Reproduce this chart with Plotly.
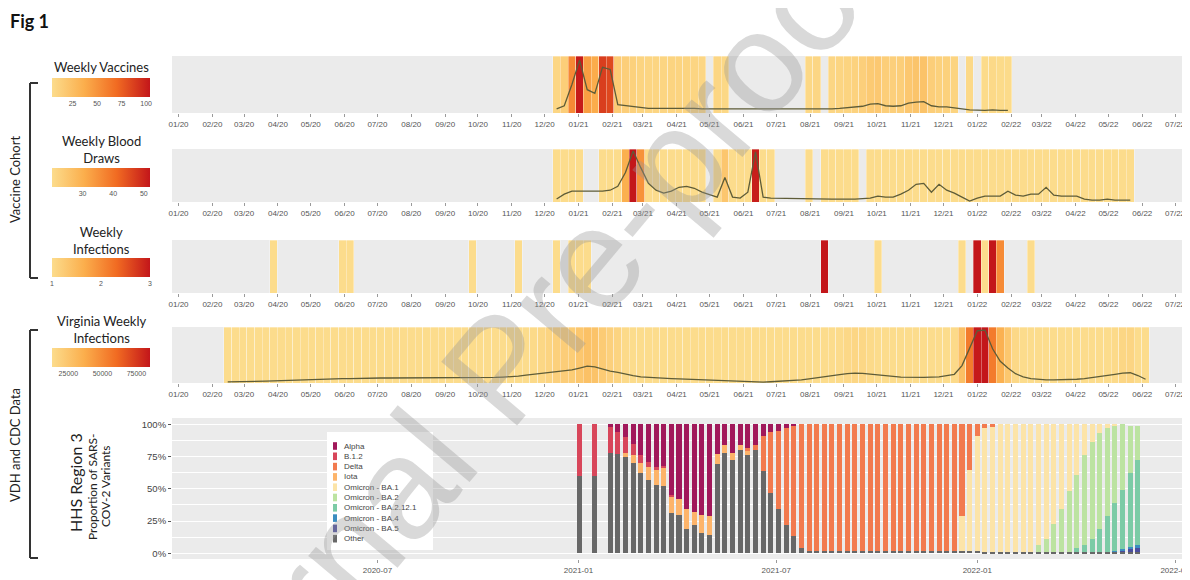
import plotly.graph_objects as go
import pandas as pd

W, H = 1190, 580
OFF = 8  # the page body adds an 8px margin; place everything relative to the window
DAY_MS = 86400000

# ---------------- data ----------------
# Weekly vaccines (cohort), weeks starting 2020-12-12; None = no record that week
vacc_start = "2020-12-12"
vacc_values = [8, 14, 55, 102, 45, 38, 88, 84, 16, 14, 12, 10, 9, 9, 9, 10, 10, 10, 9, 8, None, 8, 7,
               None, None, None, None, None, None, None, None, None, None,
               7, 8, None, 8, 9, 10, 11, 13, 17, 18, 14, 13, 14, 19, 21, 22, 14, 12, 12, 10,
               None, 6, None, 5, 6, 5, 5]

# Weekly blood draws (cohort), weeks starting 2020-12-12
draws_start = "2020-12-12"
draws_values = [3, 8, 11, 11, None, None, 11, 12, 16, 30, 52, 35, 19, 12, 9, 11, 15, 16, 14, 10,
                None, 5, 25, 5, 4, 10, 51, 5, 4, None, None, None, None, 3, None, 3, 3, 3, 3, 3,
                None, 4, 6, 5, 5, 8, 12, 18, 19, 10, 18, 12, 9, 5, 1, 4, 6, 6, 6, 11, 7, 6, 8, 8,
                15, 7, 6, 6, 6, 3, 2, 2, 3, 2, 2, 2]

# Weekly infections in the cohort
inf_weeks = ["2020-03-28", "2020-05-30", "2020-06-06", "2020-09-26", "2020-11-07", "2020-12-12",
             "2020-12-26", "2021-01-02", "2021-01-09", "2021-08-14", "2021-10-02", "2021-12-18",
             "2022-01-01", "2022-01-08", "2022-01-15", "2022-01-22", "2022-02-19"]
inf_values = [1, 1, 1, 1, 1, 1, 1, 1, 1, 3, 1, 1, 3, 1, 3, 2, 1]

# Virginia weekly infections (VDH), weeks starting 2020-02-15
va_start = "2020-02-15"
va_values = [1800, 1800, 2000,
             2200, 2500, 3000, 3500,
             4000, 4500, 4500, 5000,
             5500, 6000, 6500, 7000, 7000,
             7000, 7500, 7500, 7500,
             8000, 8000, 8000, 8000,
             8000, 8000, 8000, 8000, 8000,
             8000, 8000, 8000, 8000,
             8000, 8500, 9000, 9500, 10000,
             11000, 12500, 14000, 15500,
             17000, 19000, 20500, 21000,
             24000, 27000, 26000, 22000, 19000,
             17000, 14000, 12000, 10000,
             9000, 8000, 7500, 7000,
             6500, 6000, 5500, 5500,
             5000, 4500, 3500, 3000, 2500,
             2000, 1500, 1500, 2000,
             2500, 3000, 4000, 5000, 6500,
             8500, 10000, 12000, 13500,
             15000, 16000, 15500, 14000,
             12500, 11500, 10500, 9500, 9000,
             9000, 9000, 9500, 10000,
             12000, 14000, 28000, 55000,
             84000, 85000, 55000, 35000, 24000,
             15000, 10000, 7000, 5500,
             5000, 5000, 5000, 5500,
             6000, 7000, 8500, 10000, 12000,
             14000, 16000, 16500, 12000,
             6000]

# HHS Region 3 variant proportions (CDC), by week
variant_weeks = ["2021-01-02", "2021-01-16"] + [d.strftime("%Y-%m-%d") for d in
                                                pd.date_range("2021-01-30", "2022-05-28", freq="7D")]
alpha = [0, 0, .02, .06, .10, .15, .24, .29, .33, .32, .55, .58, .66, .68, .70, .71, .23, .16, .22, .16,
         .18, .16, .09, .06, .05, .03, .01] + [0] * 45
b12 = [.40, .40, .20, .17, .12, .09, .06, .04, .02, .02, .01] + [0] * 61
iota = [0, 0, 0, 0, .03, .06, .08, .10, .12, .14, .13, .12, .15, .10, .14, .15, .08, .06, .06, .04,
        .03] + [0] * 51
delta = [0] * 20 + [.03, .04, .27, .47, .61, .75, .86, .96] + [.98] * 20 + [.71, .35, .09, .03, .02] + [0] * 19
ba1 = [0] * 48 + [.27, .63, .89, .96, .97] + [.99] * 5 + [.94, .89, .77, .66, .52, .39, .24, .14, .07,
                                                          .03, .01, 0, 0, 0]
ba2 = [0] * 58 + [.05, .10, .22, .33, .47, .57, .70, .75, .74, .68, .60, .51, .37, .27]
ba2121 = [0] * 63 + [.03, .05, .10, .18, .28, .37, .46, .57, .66]
ba4 = [0] * 68 + [.01, .01, .02, .02]
ba5 = [0] * 69 + [.01, .02, .03]
other = [.60, .60, .78, .77, .75, .70, .62, .57, .53, .52, .31, .30, .19, .22, .16, .14, .69, .78, .72,
         .80, .76, .80, .64, .47, .34, .22, .13, .04] + [.02] * 23 + [.01] * 21

variant_names = ["Other", "Omicron - BA.5", "Omicron - BA.4", "Omicron - BA.2.12.1", "Omicron - BA.2",
                 "Omicron - BA.1", "Iota", "Delta", "B.1.2", "Alpha"]
variant_series = [other, ba5, ba4, ba2121, ba2, ba1, iota, delta, b12, alpha]
variant_colors = ["#676767", "#4A4C9E", "#3B8DC0", "#7CCBA6", "#BCE3A1", "#FCE4A8", "#FDB46A",
                  "#F27A4E", "#D8465A", "#A1185A"]

month_ticks = [d.strftime("%Y-%m-%d") for d in pd.date_range("2020-01-01", "2022-07-01", freq="MS")]
half_year_ticks = ["2020-07-01", "2021-01-01", "2021-07-01", "2022-01-01", "2022-07-01"]

# ---------------- styling ----------------
CSCALE = [[0, "#FCDC8C"], [0.33, "#FBAE4C"], [0.66, "#F16B22"], [1, "#C3161A"]]
LINE_C = "#5E5C38"
X_RANGE = ["2019-12-26", "2022-07-11"]
AX_FONT = dict(family="Liberation Sans", size=8, color="#555555")
X0, X1 = 172, 1186
panels = {1: (56, 113), 2: (149, 202), 3: (240, 293), 4: (327, 383), 5: (418, 559)}


def fx(x):
    return (x - OFF) / W


def fy(y):
    return 1 - (y - OFF) / H


def weekly(start, n):
    return [d.strftime("%Y-%m-%d") for d in pd.date_range(start, periods=n, freq="7D")]


fig = go.Figure()


def add_panel(i, dates, vals, top, coloraxis, line=True):
    xs = [d for d, v in zip(dates, vals) if v is not None]
    vs = [v for v in vals if v is not None]
    ax = "" if i == 1 else str(i)
    fig.add_trace(go.Bar(x=xs, y=[top] * len(xs), width=7 * DAY_MS,
                         marker=dict(color=vs, coloraxis=coloraxis,
                                     line=dict(color="rgba(255,255,255,0.55)", width=0.6)),
                         xaxis="x" + ax, yaxis="y" + ax, showlegend=False, hoverinfo="skip"))
    if line:
        fig.add_trace(go.Scatter(x=dates, y=vals, mode="lines", connectgaps=True,
                                 line=dict(color=LINE_C, width=1.3),
                                 xaxis="x" + ax, yaxis="y" + ax, showlegend=False, hoverinfo="skip"))


VACC_TOP, DRAW_TOP, INF_TOP, VA_TOP = 110, 54, 1, 90000
add_panel(1, weekly(vacc_start, len(vacc_values)), vacc_values, VACC_TOP, "coloraxis")
add_panel(2, weekly(draws_start, len(draws_values)), draws_values, DRAW_TOP, "coloraxis2")
add_panel(3, inf_weeks, inf_values, INF_TOP, "coloraxis3", line=False)
add_panel(4, weekly(va_start, len(va_values)), va_values, VA_TOP, "coloraxis4")

for name, ser, col in zip(variant_names, variant_series, variant_colors):
    fig.add_trace(go.Bar(x=variant_weeks, y=ser, name=name, width=4.6 * DAY_MS,
                         marker=dict(color=col, line=dict(width=0)), showlegend=False,
                         xaxis="x5", yaxis="y5", hoverinfo="skip"))


def cax(cmin, cmax, top, tickvals, ticktext=None):
    cb = dict(orientation="h", x=fx(52), xanchor="left", y=fy(top), yanchor="top",
              len=98, lenmode="pixels", thickness=19, thicknessmode="pixels",
              outlinewidth=0, xpad=0, ypad=0, tickvals=tickvals, ticks="",
              tickfont=dict(family="Liberation Sans", size=7, color="#555555"))
    if ticktext:
        cb["ticktext"] = ticktext
    return dict(colorscale=CSCALE, cmin=cmin, cmax=cmax, colorbar=cb)


layout = dict(
    width=W, height=H, margin=dict(l=0, r=0, t=0, b=0, autoexpand=False),
    paper_bgcolor="white", plot_bgcolor="#EBEBEB",
    barmode="stack", showlegend=False,
    coloraxis=cax(4, 104, 78, [25, 50, 75, 100]),
    coloraxis2=cax(20, 52, 168, [30, 40, 50]),
    coloraxis3=cax(1, 3, 258, [1, 2, 3]),
    coloraxis4=cax(13000, 85000, 348, [25000, 50000, 75000], ["25000", "50000", "75000"]),
)

tops = {1: VACC_TOP, 2: DRAW_TOP, 3: INF_TOP, 4: VA_TOP}
for i in range(1, 6):
    ax = "" if i == 1 else str(i)
    y0, y1 = panels[i]
    xa = dict(domain=[fx(X0), fx(X1)], range=X_RANGE, type="date", anchor="y" + ax,
              showgrid=False, zeroline=False, showline=False, automargin=False,
              ticks="outside", ticklen=3, tickcolor="#9A9A9A", tickfont=AX_FONT)
    ya = dict(domain=[fy(y1), fy(y0)], anchor="x" + ax, zeroline=False, showline=False,
              automargin=False)
    if i < 5:
        xa.update(tickmode="array", tickvals=month_ticks,
                  ticktext=[pd.Timestamp(t).strftime("%m/%y") for t in month_ticks])
        ya.update(range=[0, tops[i]], showticklabels=False, showgrid=False, ticks="")
    else:
        xa.update(tickmode="array", tickvals=half_year_ticks,
                  ticktext=[t[:7] for t in half_year_ticks])
        ya.update(range=[-0.045, 1.05], tickmode="array", tickvals=[0, .25, .5, .75, 1],
                  ticktext=["0%", "25%", "50%", "75%", "100%"], ticks="outside", ticklen=3,
                  tickcolor="#555555", showgrid=True, gridcolor="white", gridwidth=1,
                  minor=dict(tickvals=[.125, .375, .625, .875], showgrid=True, gridcolor="white",
                             gridwidth=0.5),
                  tickfont=dict(family="Liberation Sans", size=9.5, color="#444444"))
    layout["xaxis" + ax] = xa
    layout["yaxis" + ax] = ya

fig.update_layout(**layout)


def ann(text, x, y, size=11, angle=0, family="Lato", color="#222222", xanchor="center", bold=False):
    fig.add_annotation(text=("<b>%s</b>" % text) if bold else text, x=fx(x), y=fy(y),
                       xref="paper", yref="paper", showarrow=False, textangle=angle,
                       xanchor=xanchor, yanchor="middle",
                       font=dict(family=family, size=size, color=color))


# manual variant legend (ggplot-style compact key inside the panel)
fig.add_shape(type="rect", xref="paper", yref="paper", x0=fx(327), x1=fx(433),
              y0=fy(432), y1=fy(550), fillcolor="white", line=dict(width=0), layer="above")
leg_names = variant_names[::-1]
leg_cols = variant_colors[::-1]
for k, (nm, col) in enumerate(zip(leg_names, leg_cols)):
    yc = 446 + k * 10.3
    fig.add_shape(type="rect", xref="paper", yref="paper", x0=fx(333), x1=fx(337),
                  y0=fy(yc - 3.8), y1=fy(yc + 3.8), fillcolor=col,
                  line=dict(width=0), layer="above")
    ann(nm, 342, yc, size=8, family="Liberation Sans", color="#444444", xanchor="left")

ann("Fig 1", 8, 21, size=18, xanchor="left", bold=True, color="#111111")
ann("Weekly Vaccines", 101, 67, size=13)
ann("Weekly Blood<br>Draws", 101, 149, size=13)
ann("Weekly<br>Infections", 101, 240, size=13)
ann("Virginia Weekly<br>Infections", 101, 329, size=13)
ann("Vaccine Cohort", 15, 180, size=13, angle=-90)
ann("VDH and CDC Data", 15, 445, size=13, angle=-90)
ann("HHS Region 3", 75, 483, size=16, angle=-90)
ann("Proportion of SARS-", 92, 487, size=12, angle=-90)
ann("COV-2 Variants", 105, 486, size=12, angle=-90)

# brackets
for (ya_, yb_) in [(83, 278), (330, 558)]:
    for (x0, y0, x1, y1) in [(30, ya_, 30, yb_), (30, ya_, 38, ya_), (30, yb_, 38, yb_)]:
        fig.add_shape(type="line", xref="paper", yref="paper", x0=fx(x0), x1=fx(x1),
                      y0=fy(y0), y1=fy(y1), line=dict(color="#333333", width=2))

# journal watermark
fig.add_annotation(text="Journal Pre-proof", x=fx(500), y=fy(368), xref="paper", yref="paper",
                   showarrow=False, textangle=-50, xanchor="center", yanchor="middle",
                   font=dict(family="Liberation Sans", size=144, color="rgba(150,150,150,0.36)"))

fig.write_html("out.html")
